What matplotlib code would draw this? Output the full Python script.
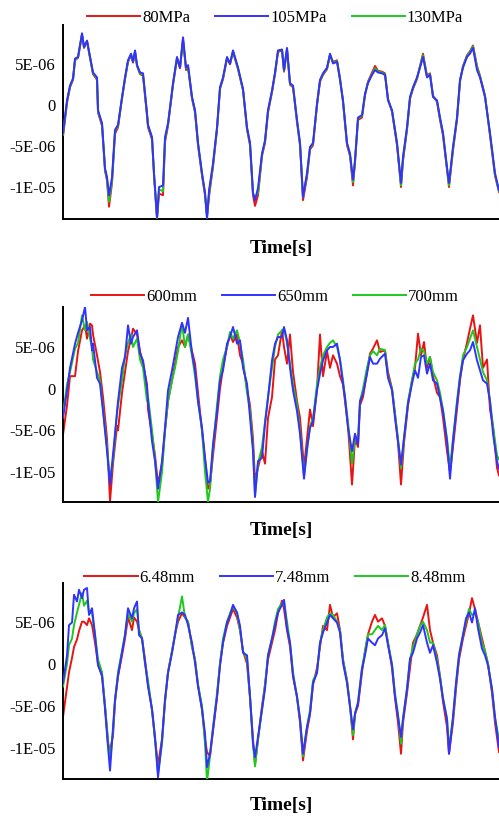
import numpy as np
import matplotlib.pyplot as plt

plt.rcParams['font.family'] = ['Liberation Serif', 'DejaVu Serif']

# -- data (displacement in 1e-6 units, time in sample units) -------
t1 = [0, 4, 7, 10, 12, 15, 19, 21, 24, 27, 30, 34, 35, 39, 42, 44, 46, 49, 52, 55,
      59, 62, 65, 68, 70, 72, 74, 77, 80, 84, 85, 89, 91, 94, 96, 100, 102, 105, 109, 110,
      114, 117, 120, 123, 125, 129, 132, 135, 139, 142, 144, 146, 150, 154, 157, 160, 164, 167, 170, 175,
      180, 184, 187, 190, 192, 195, 199, 202, 205, 209, 212, 215, 219, 221, 224, 227, 230, 234, 237, 240,
      244, 247, 250, 254, 257, 260, 264, 267, 270, 274, 277, 280, 284, 287, 290, 292, 295, 299, 302, 305,
      309, 312, 315, 319, 322, 325, 329, 334, 338, 340, 344, 347, 350, 354, 357, 360, 364, 367, 370, 374,
      377, 380, 384, 386, 390, 394, 397, 400, 404, 407, 410, 414, 417, 422, 427, 432, 436]
p80 = [-3.8, 0.3, 2.2, 3.1, 5.5, 5.8, 8.6, 7.0, 7.8, 5.8, 3.8, 3.1, -0.9, -2.5, -8.0, -9.2, -12.4, -9.5, -3.5, -2.7,
       0.8, 3.2, 5.3, 6.1, 5.2, 6.5, 4.8, 3.8, 3.6, -1.3, -2.7, -4.2, -8.6, -13.9, -10.8, -11.0, -4.5, -2.5, 1.5, 2.5,
       5.7, 4.5, 8.1, 4.3, 4.6, 0.8, -0.9, -4.9, -8.6, -11.0, -13.5, -11.2, -7.5, -3.0, 2.0, 3.2, 5.7, 5.0, 6.5, 4.4,
       1.8, -3.0, -4.9, -11.0, -12.3, -11.0, -6.2, -4.6, -0.9, 1.6, 3.8, 6.5, 6.7, 4.1, 6.8, 2.5, 2.2, -2.1, -4.9, -11.6,
       -8.8, -5.4, -4.9, 0.0, 2.9, 3.7, 4.4, 6.1, 5.3, 5.5, 3.3, 0.4, -4.9, -6.2, -9.8, -7.0, -1.8, -1.5, 1.2, 2.9,
       4.0, 4.8, 4.2, 4.1, 3.9, 0.8, -0.8, -4.9, -10.0, -6.8, -3.0, 0.8, 2.0, 3.2, 4.8, 6.3, 3.6, 3.9, 1.2, 0.4,
       -1.8, -3.7, -7.9, -10.0, -5.5, -1.8, 2.9, 4.8, 6.1, 6.6, 7.3, 4.8, 3.6, 1.2, -3.7, -8.6, -10.6]
p105 = [-3.4, 0.6, 2.4, 3.3, 5.7, 5.9, 8.8, 7.1, 7.9, 5.9, 4.0, 3.4, -0.6, -2.2, -7.7, -8.8, -11.0, -8.8, -3.0, -2.4,
        1.0, 3.4, 5.5, 6.3, 5.3, 6.7, 4.9, 4.0, 3.9, -1.0, -2.4, -3.9, -8.3, -13.7, -10.0, -9.8, -3.9, -2.2, 1.8, 2.7,
        5.9, 4.6, 8.3, 4.6, 4.9, 1.0, -0.6, -4.6, -8.3, -10.7, -13.9, -10.4, -7.1, -2.7, 2.2, 3.4, 5.9, 5.1, 6.7, 4.6,
        2.0, -2.7, -4.6, -10.7, -11.6, -10.1, -5.9, -4.3, -0.6, 1.8, 4.0, 6.7, 6.8, 4.3, 7.0, 2.7, 2.4, -1.8, -4.6, -11.2,
        -8.3, -5.1, -4.6, 0.2, 3.1, 3.9, 4.6, 6.3, 5.1, 5.3, 3.1, 0.6, -4.6, -5.9, -9.1, -6.7, -1.5, -1.2, 1.4, 2.7,
        3.7, 4.3, 4.0, 3.9, 3.7, 0.6, -0.6, -4.6, -9.5, -6.3, -2.7, 1.0, 2.2, 3.4, 4.6, 5.9, 3.4, 3.7, 1.0, 0.6,
        -1.5, -3.4, -7.6, -9.5, -5.1, -1.5, 3.1, 4.6, 5.9, 6.3, 7.0, 4.3, 3.4, 1.0, -3.4, -8.3, -10.4]
p130 = [-3.6, 0.5, 2.3, 3.2, 5.5, 5.9, 8.7, 7.1, 7.8, 5.9, 3.9, 3.2, -0.8, -2.3, -7.9, -9.0, -11.8, -9.2, -3.2, -2.5,
        0.9, 3.3, 5.4, 6.2, 5.3, 6.6, 4.9, 3.9, 3.7, -1.1, -2.5, -4.0, -8.4, -13.8, -10.3, -10.5, -4.2, -2.3, 1.6, 2.6,
        5.8, 4.6, 8.0, 4.5, 4.8, 0.9, -0.7, -4.7, -8.4, -10.8, -13.7, -10.8, -7.3, -2.8, 2.1, 3.3, 5.8, 5.1, 6.6, 4.5,
        1.9, -2.8, -4.7, -10.8, -11.3, -10.7, -6.0, -4.4, -0.7, 1.7, 3.9, 6.6, 6.8, 4.2, 6.9, 2.6, 2.3, -1.9, -4.7, -11.2,
        -8.5, -5.2, -4.7, 0.1, 3.0, 3.8, 4.5, 6.2, 5.2, 5.4, 3.2, 0.5, -4.7, -6.0, -9.4, -6.8, -1.6, -1.3, 1.3, 2.8,
        3.8, 4.5, 4.1, 4.0, 3.8, 0.7, -0.7, -4.7, -9.8, -6.5, -2.8, 0.9, 2.1, 3.3, 4.7, 6.1, 3.5, 3.8, 1.1, 0.5,
        -1.6, -3.5, -7.7, -9.8, -5.3, -1.6, 3.0, 4.7, 6.0, 6.5, 7.2, 4.6, 3.5, 1.1, -3.5, -8.5, -10.5]

t2 = [0, 4, 7, 12, 15, 19, 22, 24, 27, 29, 30, 34, 37, 40, 44, 47, 50, 54, 55, 59,
      62, 65, 68, 70, 74, 77, 80, 84, 85, 89, 92, 95, 99, 102, 105, 109, 112, 115, 119, 122,
      125, 129, 132, 135, 139, 142, 145, 147, 150, 154, 157, 160, 164, 167, 170, 174, 177, 180, 184, 187,
      190, 192, 195, 199, 202, 205, 209, 212, 215, 219, 221, 224, 227, 230, 234, 237, 241, 244, 247, 250,
      254, 257, 260, 264, 267, 270, 274, 277, 280, 282, 285, 289, 292, 295, 297, 300, 304, 307, 310, 314,
      317, 322, 325, 329, 332, 335, 338, 341, 345, 349, 352, 355, 358, 361, 364, 367, 370, 374, 377, 380,
      384, 387, 390, 394, 397, 400, 404, 407, 410, 414, 417, 420, 424, 427, 430, 434, 436]
d600 = [-5.5, -2.0, 1.5, 1.5, 4.5, 7.0, 7.6, 6.0, 7.8, 7.6, 6.5, 4.0, 2.0, -1.0, -6.0, -13.5, -9.0, -4.5, -5.0, -0.5,
        2.0, 4.5, 6.0, 7.2, 6.5, 4.5, 3.0, 0.5, -2.5, -5.5, -8.0, -11.5, -9.0, -5.0, -1.5, 1.0, 3.0, 5.0, 5.8, 5.0,
        6.5, 4.5, 3.0, -0.5, -5.0, -8.5, -12.0, -11.5, -8.0, -3.5, 0.0, 2.5, 5.0, 6.5, 5.6, 6.5, 4.0, 3.0, 0.0, -2.0,
        -6.0, -11.0, -9.5, -7.5, -9.0, -3.5, -1.0, 3.5, 4.0, 7.0, 5.0, 3.0, 6.5, 2.0, -1.5, -3.5, -9.5, -6.0, -2.5, -4.5,
        0.0, 6.5, 1.5, 4.5, 2.5, 4.0, 3.0, 1.5, 0.5, -1.5, -4.5, -11.5, -6.0, -7.0, -2.0, -1.0, 2.0, 4.2, 4.8, 5.8,
        4.4, 4.6, 2.0, 0.0, -3.0, -6.5, -11.5, -6.5, -2.0, 1.0, 2.5, 6.6, 4.0, 5.6, 2.5, 3.8, 1.5, -0.5, -1.0, -3.5,
        -7.5, -10.0, -7.0, -2.5, 1.0, 3.5, 5.5, 7.2, 8.8, 5.5, 7.6, 2.5, 3.5, -2.5, -4.5, -9.5, -10.4]
d650 = [-3.5, -0.2, 2.5, 5.4, 6.7, 8.2, 9.8, 7.0, 7.4, 4.6, 5.4, 1.3, 0.6, -2.7, -7.5, -11.5, -7.9, -2.7, -1.5, 2.5,
        3.8, 7.6, 5.4, 6.2, 7.0, 4.2, 3.4, 0.1, -1.5, -6.3, -8.7, -12.0, -8.7, -4.7, -0.2, 2.2, 4.2, 6.2, 7.9, 6.7,
        8.5, 4.2, 2.2, -1.5, -4.7, -8.3, -11.3, -11.1, -6.7, -2.7, 1.0, 2.2, 5.4, 6.2, 7.4, 5.4, 5.8, 2.5, 0.6, -3.5,
        -7.5, -13.0, -8.7, -8.3, -4.2, -1.1, 3.4, 5.4, 6.2, 6.2, 7.4, 5.8, 2.5, -0.2, -2.7, -5.4, -10.8, -7.1, -4.7, -3.9,
        -0.2, 1.8, 3.4, 4.6, 5.0, 5.0, 5.4, 3.4, 0.6, -1.1, -4.7, -7.5, -5.4, -6.7, -1.5, -0.6, 1.8, 3.8, 3.0, 3.0,
        3.6, 4.2, 1.3, -0.2, -3.5, -6.3, -9.1, -5.9, -1.8, 0.6, 2.2, 1.3, 3.8, 4.0, 1.8, 3.0, 1.0, 0.6, -1.1, -2.7,
        -6.3, -10.8, -6.3, -1.8, 1.3, 3.4, 4.2, 4.6, 5.6, 3.4, 2.2, 1.0, 0.6, -1.5, -5.4, -8.7, -9.6]
d700 = [-3.0, 0.5, 2.0, 4.8, 5.5, 8.8, 7.0, 8.0, 6.0, 5.0, 3.5, 2.0, 1.0, -2.5, -7.0, -11.0, -8.5, -3.0, -2.0, 1.0,
        4.0, 5.5, 6.5, 5.0, 6.0, 3.5, 2.5, -1.5, -1.0, -5.0, -8.5, -13.6, -10.0, -5.0, -1.5, 1.0, 2.5, 4.5, 7.8, 5.0,
        6.5, 4.0, 1.5, -1.5, -5.0, -10.0, -13.6, -12.0, -7.0, -2.0, 1.5, 3.5, 5.0, 6.8, 6.0, 7.0, 5.5, 3.5, -0.5, -2.5,
        -7.0, -12.8, -9.0, -7.0, -4.0, -1.0, 2.5, 5.0, 6.5, 7.0, 7.2, 5.5, 3.0, 0.5, -2.0, -5.0, -10.5, -7.5, -4.5, -3.5,
        0.5, 2.5, 4.0, 5.0, 5.5, 5.8, 5.0, 3.5, 1.0, -1.0, -4.0, -9.0, -6.0, -6.0, -1.5, 0.0, 2.5, 4.0, 4.5, 4.0,
        4.8, 4.6, 1.5, 0.0, -3.0, -6.0, -9.5, -6.0, -1.5, 1.0, 3.0, 3.5, 4.8, 4.5, 3.0, 3.8, 2.0, 1.0, -0.5, -2.5,
        -6.0, -9.5, -6.0, -1.5, 1.5, 4.0, 5.0, 6.0, 7.0, 5.0, 3.5, 2.0, 1.0, -1.5, -4.5, -8.0, -8.5]

t3 = [0, 4, 6, 9, 11, 14, 16, 19, 21, 24, 26, 29, 32, 35, 39, 42, 45, 47, 50, 52,
      55, 59, 62, 65, 69, 71, 74, 76, 79, 82, 85, 89, 92, 95, 99, 102, 105, 109, 112, 115,
      119, 122, 125, 129, 132, 135, 139, 142, 144, 147, 150, 154, 157, 160, 164, 167, 170, 174, 177, 180,
      184, 187, 190, 192, 195, 199, 202, 205, 209, 212, 215, 219, 221, 224, 227, 230, 234, 237, 240, 244,
      247, 250, 254, 257, 260, 264, 267, 270, 274, 277, 280, 284, 287, 290, 292, 295, 299, 302, 305, 309,
      312, 315, 319, 322, 325, 329, 332, 335, 338, 340, 344, 347, 350, 354, 357, 360, 364, 367, 370, 374,
      377, 380, 384, 386, 390, 393, 396, 400, 403, 406, 409, 412, 415, 419, 422, 425, 429, 432, 436]
h648 = [-6.3, -2.7, -1.0, 0.7, 2.0, 2.9, 3.9, 5.0, 5.0, 4.6, 5.4, 4.6, 2.5, 0.0, -1.5, -5.0, -9.5, -10.3, -8.5, -4.5,
        -1.5, 1.0, 3.0, 5.5, 4.0, 5.5, 5.0, 4.0, 3.0, 0.5, -2.5, -5.5, -9.0, -12.0, -9.0, -4.5, -1.0, 1.5, 3.5, 5.0,
        6.0, 5.5, 5.0, 2.0, 0.5, -2.5, -5.5, -9.0, -10.5, -11.0, -8.0, -4.0, 0.0, 2.5, 4.5, 5.5, 6.5, 5.5, 4.0, 1.5,
        0.0, -4.0, -9.0, -12.0, -9.0, -5.0, -2.5, 0.5, 2.5, 4.0, 6.0, 7.5, 6.5, 4.0, 2.0, -1.5, -4.0, -7.0, -11.5, -8.0,
        -6.0, -2.5, -0.5, 2.0, 4.5, 4.0, 7.0, 5.5, 6.0, 4.0, 0.5, -2.0, -5.0, -9.0, -6.0, -5.0, -1.0, 1.5, 3.5, 5.0,
        5.8, 5.0, 5.4, 4.5, 2.5, -0.5, -4.0, -7.0, -10.7, -7.0, -3.5, -0.5, 2.5, 3.5, 4.5, 5.5, 7.0, 4.0, 2.5, 1.0,
        -1.5, -4.5, -7.5, -10.7, -7.0, -3.0, 0.5, 3.0, 4.5, 6.0, 7.8, 6.5, 5.0, 3.0, 1.5, 0.0, -3.5, -7.0, -10.5]
h748 = [-2.3, 1.0, 4.6, 4.9, 8.2, 7.4, 8.8, 7.8, 8.8, 9.0, 5.8, 6.6, 3.4, -0.2, -1.4, -5.4, -9.9, -12.7, -7.5, -4.2,
        -1.4, 1.3, 3.4, 6.6, 5.4, 6.6, 7.4, 3.4, 3.0, 0.1, -2.7, -5.4, -8.7, -13.5, -9.0, -4.2, -1.1, 1.3, 3.4, 5.8,
        6.1, 5.8, 4.6, 2.5, 0.1, -2.7, -5.4, -8.3, -12.3, -10.7, -7.8, -3.9, -0.2, 2.5, 4.9, 5.8, 7.0, 6.1, 4.5, 1.3,
        1.0, -3.9, -9.5, -11.1, -8.7, -5.4, -3.0, 1.0, 3.0, 4.6, 6.1, 7.0, 7.6, 4.2, 2.5, -1.4, -3.9, -6.6, -10.7, -7.5,
        -5.9, -2.3, -1.1, 2.5, 3.7, 4.9, 5.8, 5.4, 4.9, 3.7, 0.1, -2.3, -5.1, -7.8, -5.9, -4.7, -0.6, 1.0, 3.0, 2.5,
        2.2, 3.0, 3.4, 4.2, 2.2, -0.2, -3.9, -6.3, -8.7, -6.6, -3.0, 0.6, 1.3, 3.0, 3.7, 4.6, 2.5, 1.3, 2.2, 0.1,
        -1.8, -4.2, -6.6, -10.7, -6.3, -2.3, 1.0, 3.4, 5.4, 6.1, 4.9, 6.6, 4.2, 1.8, 1.0, -0.2, -3.0, -6.3, -9.9]
h848 = [-2.7, 0.0, 2.2, 3.0, 4.6, 6.1, 7.0, 8.4, 6.9, 7.5, 6.1, 6.0, 3.5, 0.5, -1.0, -5.0, -9.0, -11.5, -8.0, -4.5,
        -1.0, 1.5, 3.5, 6.0, 5.0, 6.0, 6.5, 4.0, 3.0, 0.0, -2.0, -5.5, -9.0, -13.0, -9.5, -4.5, -1.0, 1.5, 3.5, 5.5,
        8.0, 5.5, 5.0, 2.0, 0.5, -2.5, -5.0, -9.5, -14.0, -11.0, -7.5, -3.5, 0.0, 3.0, 5.0, 6.0, 6.8, 6.0, 4.0, 1.5,
        0.5, -4.0, -9.5, -12.2, -9.0, -5.5, -2.5, 1.0, 3.0, 5.0, 6.5, 7.2, 7.4, 5.0, 2.5, -1.0, -4.0, -6.5, -11.0, -7.5,
        -5.5, -2.0, -1.0, 2.5, 4.0, 5.5, 6.0, 5.8, 5.0, 4.0, 0.5, -2.0, -5.0, -8.5, -6.0, -4.5, -0.5, 1.5, 3.5, 3.5,
        4.0, 4.5, 4.0, 4.6, 2.5, 0.0, -3.5, -6.0, -9.5, -6.5, -3.0, 0.5, 2.0, 3.5, 4.5, 5.0, 4.0, 2.5, 2.5, 0.5,
        -1.5, -4.0, -6.5, -10.0, -6.5, -2.5, 1.0, 3.5, 5.0, 6.5, 5.8, 6.0, 5.0, 2.5, 1.5, 0.0, -3.0, -6.5, -9.0]

labels1 = ['80MPa', '105MPa', '130MPa']
labels2 = ['600mm', '650mm', '700mm']
labels3 = ['6.48mm', '7.48mm', '8.48mm']

yticks = [5e-6, 0, -5e-6, -1e-5]
ytick_labels = ['5E-06', '0', '-5E-06', '-1E-05']

# -- style ---------------------------------------------------------
COLORS  = ['#e81414', '#3232ff', '#1ec81e']
ZORDERS = [2, 4, 3]  # blue drawn on top


def draw_panel(fig, rect, t, series, labels, ylim, legend_y, label_y):
    ax = fig.add_axes(rect)
    for vals, lab, col, z in zip(series, labels, COLORS, ZORDERS):
        ax.plot(t, np.array(vals) * 1e-6, color=col, lw=1.4, label=lab, zorder=z)

    ax.set_xlim(0, 436)
    ax.set_ylim(*ylim)
    ax.set_xticks([])
    ax.set_yticks(yticks, ytick_labels)
    ax.tick_params(axis='y', length=0, pad=5, labelsize=12)
    for s in ('top', 'right'):
        ax.spines[s].set_visible(False)
    for s in ('left', 'bottom'):
        ax.spines[s].set_linewidth(1.4)

    fig.legend(
        handles=ax.get_lines(), labels=labels, loc='center',
        bbox_to_anchor=(0.551, legend_y), ncol=3, frameon=False, fontsize=12,
        handlelength=3.2, handletextpad=0.1, columnspacing=1.5, borderpad=0
    )
    fig.text(0.563, label_y, 'Time[s]', ha='center', va='center',
             fontsize=14, fontweight='bold')
    return ax


fig = plt.figure(figsize=(4.99, 8.18), dpi=100)

draw_panel(fig, (0.1263, 0.7323, 0.8737, 0.2371), t1, [p80, p105, p130], labels1,
           (-13.9e-6, 9.8e-6), 0.978, 0.6968)
draw_panel(fig, (0.1263, 0.3863, 0.8737, 0.2384), t2, [d600, d650, d700], labels2,
           (-13.6e-6, 9.8e-6), 0.637, 0.3516)
draw_panel(fig, (0.1263, 0.0477, 0.8737, 0.2396), t3, [h648, h748, h848], labels3,
           (-13.7e-6, 9.6e-6), 0.2934, 0.0147)

fig.savefig('out.png', dpi=100)
